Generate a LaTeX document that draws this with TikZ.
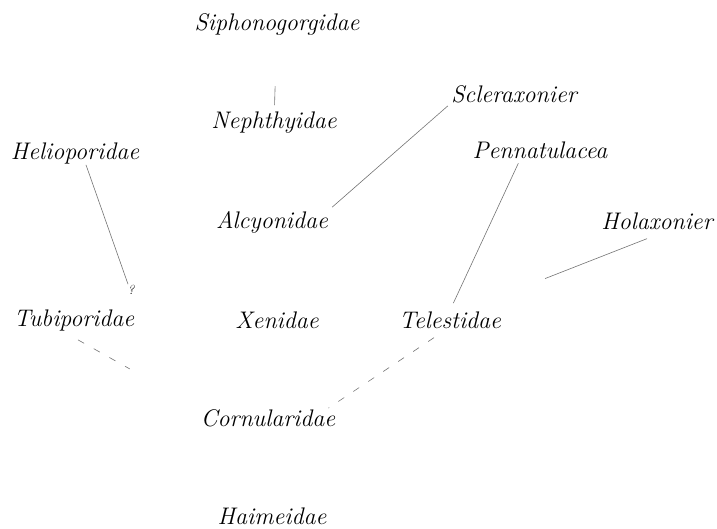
\documentclass[tikz,border=0pt]{standalone}
\usepackage{tikz}
\usepackage{xcolor}
\usetikzlibrary{positioning}

\begin{document}
\begin{tikzpicture}[
		x=1pt, y=-1pt,
		family/.style={font=\fontsize{24}{28}\selectfont\itshape, inner sep=1pt},
		query/.style={font=\fontsize{13}{15}\selectfont\itshape, inner sep=1pt},
		branch/.style={draw=black!55, line width=0.6pt},
		faint/.style={branch, dash pattern=on 7pt off 11pt}
	]
	\useasboundingbox (0,0) rectangle (717,528);

	\node[family] (siph) at (277,24) {Siphonogorgidae};
	\node[family] (neph) at (274,123) {Nephthyidae};
	\node[family] (helio) at (75,153) {Helioporidae};
	\node[family] (scler) at (514,94) {Scleraxonier};
	\node[family] (penn) at (540,150) {Pennatulacea};
	\node[family] (alcy) at (272,222) {Alcyonidae};
	\node[family] (holax) at (657,221) {Holaxonier};
	\node[query] (q) at (131,290) {?};
	\node[family] (tubi) at (74,320) {Tubiporidae};
	\node[family] (xeni) at (277,320) {Xenidae};
	\node[family] (teles) at (450,320) {Telestidae};
	\node[family] (corn) at (268,418) {Cornularidae};
	\node[family] (haim) at (272,516) {Haimeidae};

	\draw[branch, shorten <=50pt, shorten >=6pt] (siph) -- (neph);
	\draw[branch] ([xshift=11pt]helio.south) -- ([xshift=-3pt]q.north);
	\draw[branch, shorten <=3pt, shorten >=4pt] (scler.south west) -- (alcy.north east);
	\draw[branch, shorten <=4pt, shorten >=8pt] ([xshift=-20pt]penn.south) -- (teles.north);
	\draw[branch, shorten >=46pt] ([xshift=-10pt,yshift=-8pt]holax.south) -- ([yshift=15pt]teles.north east);
	% dashed remnants towards Cornularidae
	\draw[faint, shorten >=80pt] ([xshift=4pt,yshift=-8pt]tubi.south) -- (corn.north west);
	\draw[faint] ([xshift=-16pt,yshift=-8pt]teles.south) -- ([xshift=-8pt]corn.north east);

\end{tikzpicture}
\end{document}
